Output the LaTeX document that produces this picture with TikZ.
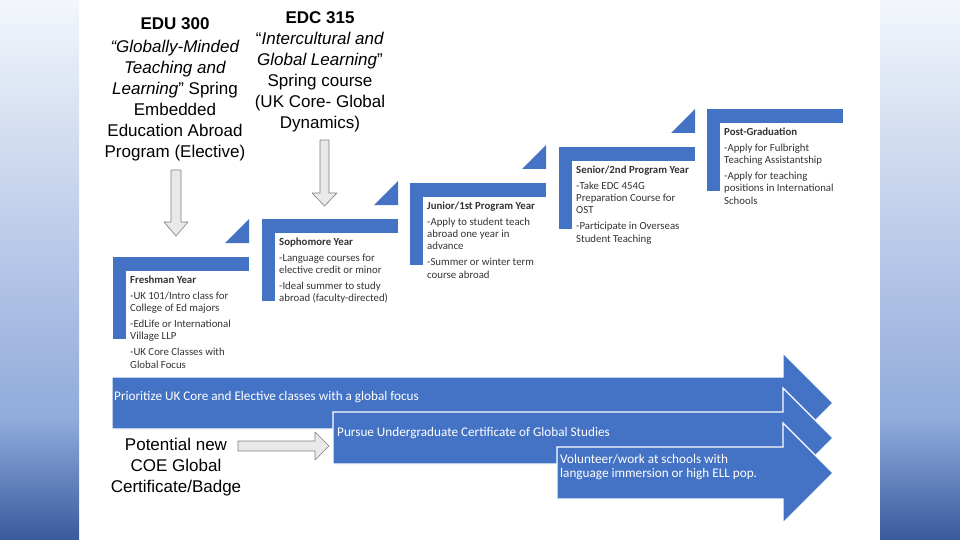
\documentclass[tikz,border=0pt]{standalone}
\usepackage{fontspec}
\setmainfont{Liberation Sans}
\newfontfamily\calibri{Carlito}

\definecolor{stepblue}{HTML}{4472C4}
\definecolor{arrowgray}{HTML}{E9E9E9}
\definecolor{arrowline}{HTML}{7F7F7F}
\definecolor{sidetop}{HTML}{F3F6FB}
\definecolor{sidemid}{HTML}{90AADB}
\definecolor{sidebot}{HTML}{395A9C}

\tikzset{
	stepfill/.style={fill=stepblue},
	steptext/.style={anchor=north west, inner sep=0pt, align=left, text=black!80, font=\calibri\fontsize{10.8}{12.4}\selectfont},
	bandarrow/.style={fill=stepblue, draw=white, line width=1.2pt, line join=miter},
	bandtext/.style={anchor=west, inner sep=0pt, align=left, text=white, font=\calibri\fontsize{13.2}{14}\selectfont},
	grayarrow/.style={fill=arrowgray, draw=arrowline, line width=0.6pt},
	coursetext/.style={anchor=north, align=center, inner sep=0pt, font=\fontsize{17}{21}\selectfont}
}

\begin{document}
\begin{tikzpicture}[x=1pt, y=-1pt, line join=round]
				\useasboundingbox (0,0) rectangle (960,540);
				
				% side bands
				\shade[top color=sidetop, bottom color=sidemid] (0,0) rectangle (79,420);
				\shade[top color=sidemid, bottom color=sidebot] (0,419.5) rectangle (79,540);
				\shade[top color=sidetop, bottom color=sidemid] (880,0) rectangle (960,420);
				\shade[top color=sidemid, bottom color=sidebot] (880,419.5) rectangle (960,540);
				
				\coordinate (Fr) at (113,257);
				\coordinate (So) at (262,219);
				\coordinate (Ju) at (410,183);
				\coordinate (Se) at (559,147);
				\coordinate (Po) at (707,109);
				
				% steps
				\fill[stepfill] (Fr) rectangle ++(136,14);
				\fill[stepfill] (Fr) rectangle ++(13,82);
				\fill[stepfill] ([shift={(112,-14)}]Fr) -- ++(24,0) -- ++(0,-24) -- cycle;
				
				\fill[stepfill] (So) rectangle ++(136,14);
				\fill[stepfill] (So) rectangle ++(13,82);
				\fill[stepfill] ([shift={(112,-14)}]So) -- ++(24,0) -- ++(0,-24) -- cycle;
				
				\fill[stepfill] (Ju) rectangle ++(136,14);
				\fill[stepfill] (Ju) rectangle ++(13,82);
				\fill[stepfill] ([shift={(112,-14)}]Ju) -- ++(24,0) -- ++(0,-24) -- cycle;
				
				\fill[stepfill] (Se) rectangle ++(136,14);
				\fill[stepfill] (Se) rectangle ++(13,82);
				\fill[stepfill] ([shift={(112,-14)}]Se) -- ++(24,0) -- ++(0,-24) -- cycle;
				
				\fill[stepfill] (Po) rectangle ++(136,14);
				\fill[stepfill] (Po) rectangle ++(13,82);
				
				\node[steptext] (frtext) at ([shift={(17,18.5)}]Fr) {\textbf{Freshman Year}\\[3.5pt] -UK 101/Intro class for\\ College of Ed majors\\[3.5pt] -EdLife or International\\ Village LLP\\[3.5pt] -UK Core Classes with\\ Global Focus};
				\node[steptext] (sotext) at ([shift={(17,18.5)}]So) {\textbf{Sophomore Year}\\[3.5pt] -Language courses for\\ elective credit or minor\\[3.5pt] -Ideal summer to study\\ abroad (faculty-directed)};
				\node[steptext] (jutext) at ([shift={(17,18.5)}]Ju) {\textbf{Junior/1st Program Year}\\[3.5pt] -Apply to student teach\\ abroad one year in\\ advance\\[3.5pt] -Summer or winter term\\ course abroad};
				\node[steptext] (setext) at ([shift={(17,18.5)}]Se) {\textbf{Senior/2nd Program Year}\\[3.5pt] -Take EDC 454G\\ Preparation Course for\\ OST\\[3.5pt] -Participate in Overseas\\ Student Teaching};
				\node[steptext] (potext) at ([shift={(17,18.5)}]Po) {\textbf{Post-Graduation}\\[3.5pt] -Apply for Fulbright\\ Teaching Assistantship\\[3.5pt] -Apply for teaching\\ positions in International\\ Schools};
				
				% courses
				\node[coursetext] (edu) at (175,17) {\textbf{EDU 300}\\[2pt] \textit{“Globally-Minded}\\ \textit{Teaching and}\\ \textit{Learning}” Spring\\ Embedded\\ Education Abroad\\ Program (Elective)};
				\node[coursetext] (edc) at (320,11) {\textbf{EDC 315}\\ “\textit{Intercultural and}\\ \textit{Global Learning}”\\ Spring course\\ (UK Core- Global\\ Dynamics)};
				\node[coursetext] (coe) at (176,437.5) {Potential new\\ COE Global\\ Certificate/Badge};
				
				\draw[grayarrow] (171,170) -- (181,170) -- (181,222) -- (188,222) -- (176,236) -- (164,222) -- (171,222) -- cycle;
				\draw[grayarrow] (320,140) -- (329,140) -- (329,193) -- (337,193) -- (324.5,206) -- (312,193) -- (320,193) -- cycle;
				\draw[grayarrow] (238,441) -- (315,441) -- (315,432) -- (329,446) -- (315,460) -- (315,451) -- (238,451) -- cycle;
				
				% bands
				\draw[bandarrow] (112,377) -- (783,377) -- (783,353) -- (833,403) -- (783,453) -- (783,429) -- (112,429) -- cycle;
				\node[bandtext] (prio) at (114,397) {Prioritize UK Core and Elective classes with a global focus};
				
				\draw[bandarrow] (333,412) -- (783,412) -- (783,388) -- (833,438) -- (783,488) -- (783,464) -- (333,464) -- cycle;
				\node[bandtext] (pursue) at (337,433) {Pursue Undergraduate Certificate of Global Studies};
				
				\draw[bandarrow] (557,447) -- (783,447) -- (783,423) -- (833,473) -- (783,523) -- (783,499) -- (557,499) -- cycle;
				\node[bandtext] (volun) at (560,467) {Volunteer/work at schools with\\ language immersion or high ELL pop.};
			\end{tikzpicture}
\end{document}
